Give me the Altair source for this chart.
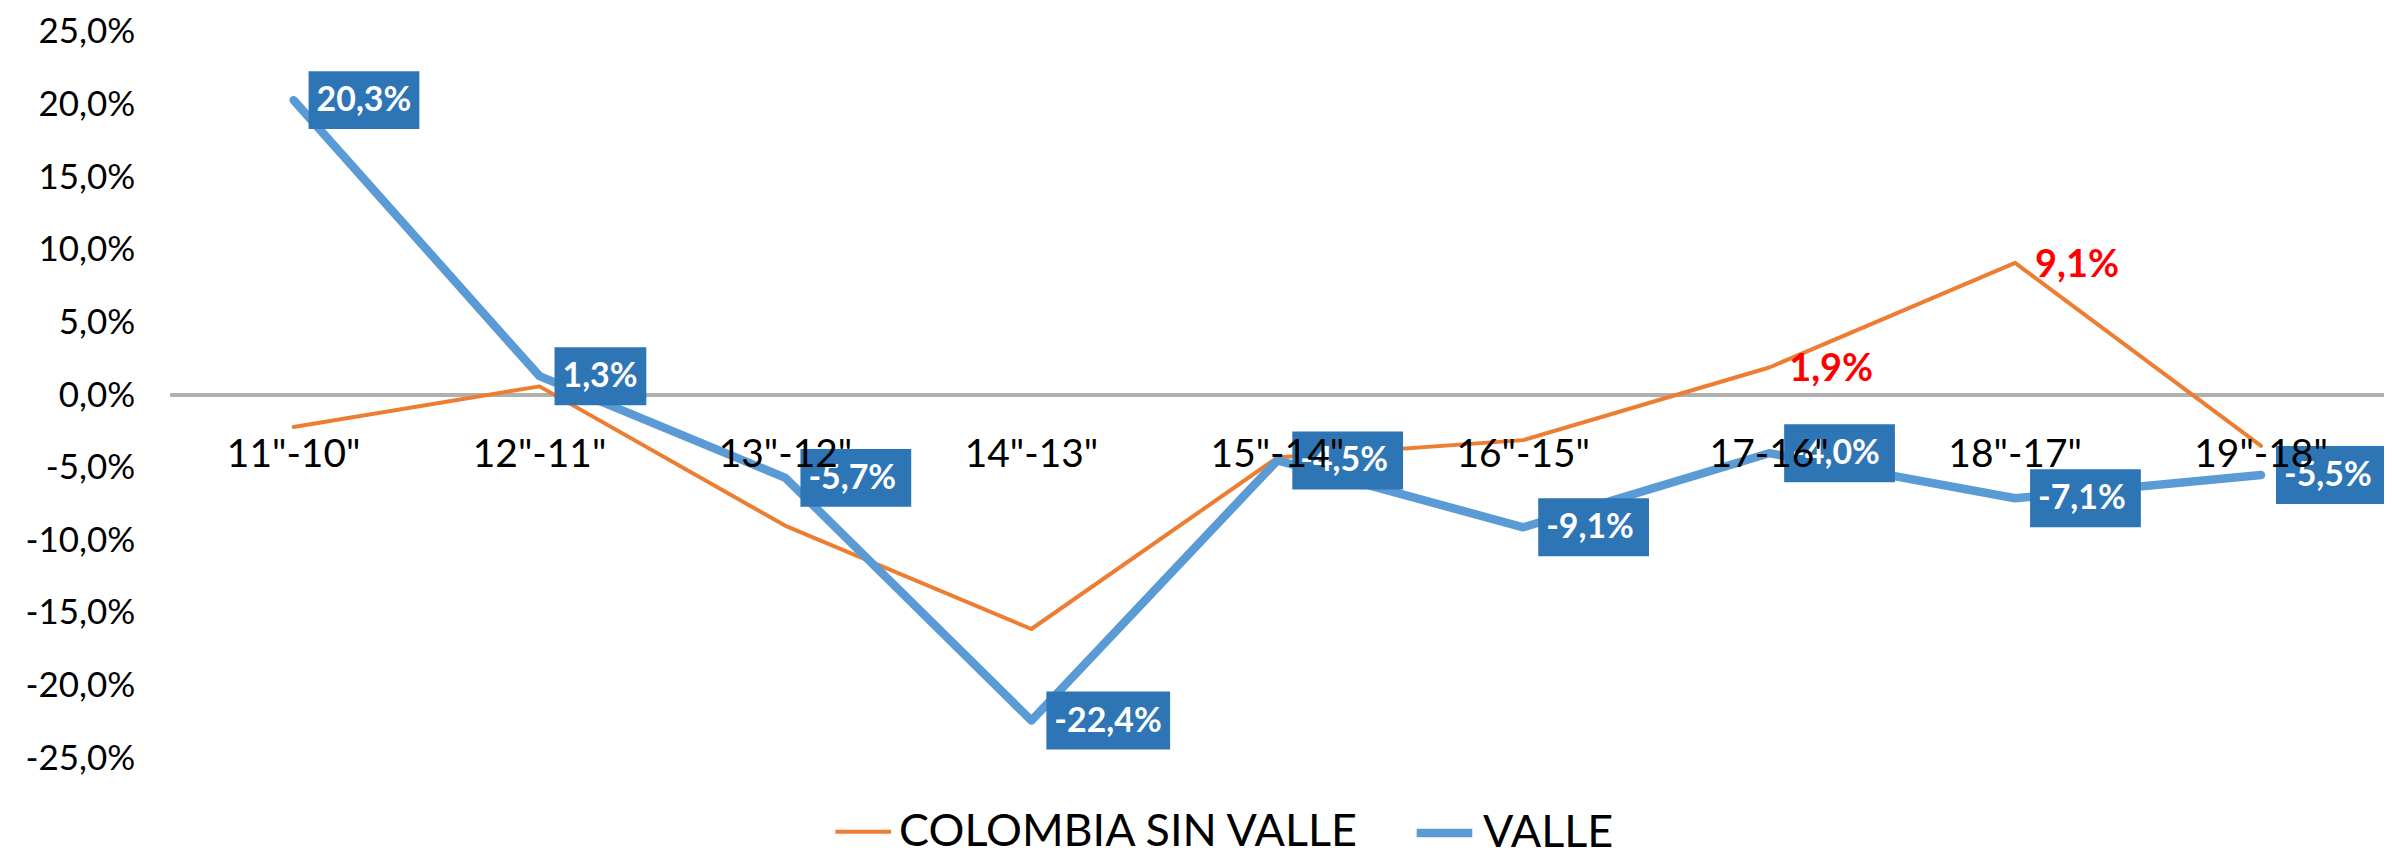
import altair as alt
import pandas as pd

periods = ['11"-10"', '12"-11"', '13"-12"', '14"-13"', '15"-14"', '16"-15"', '17-16"', '18"-17"', '19"-18"']
valle = [20.3, 1.3, -5.7, -22.4, -4.5, -9.1, -4.0, -7.1, -5.5]
colombia = [-2.2, 0.6, -9.0, -16.1, -4.3, -3.1, 1.9, 9.1, -3.5]
colombia_labelled = ['17-16"', '18"-17"']

S_COL = "COLOMBIA SIN VALLE"
S_VAL = "VALLE"
FONT = "Lato"


def fmt(v):
    return f"{v:.1f}".replace(".", ",") + "%"


rows = []
for p, c in zip(periods, colombia):
    rows.append({"period": p, "serie": S_COL, "value": c, "lab": fmt(c),
                 "show": p in colombia_labelled})
for p, v in zip(periods, valle):
    rows.append({"period": p, "serie": S_VAL, "value": v, "lab": fmt(v), "show": True})
df = pd.DataFrame(rows)

xenc = alt.X("period:N", sort=periods, scale=alt.Scale(type="point", padding=0.5), axis=None)
yenc = alt.Y("value:Q", scale=alt.Scale(domain=[-25, 25]),
             axis=alt.Axis(values=[-25, -20, -15, -10, -5, 0, 5, 10, 15, 20, 25],
                           labelExpr="(datum.value < 0 ? '-' : '') + replace(format(abs(datum.value), '.1f'), '.', ',') + '%'",
                           grid=False, domain=False, ticks=False, title=None,
                           labelFont=FONT, labelFontSize=35, labelColor="black",
                           labelPadding=36))

base = alt.Chart(df).encode(x=xenc, y=yenc)

zero = alt.Chart(df).mark_rule(color="#B0B0B0", strokeWidth=2.5).encode(y=alt.datum(0))

leg = dict(orient="none", legendX=664, legendY=770, direction="horizontal", title=None,
           symbolType="stroke", symbolSize=3100, labelFont=FONT, labelFontSize=45,
           labelColor="black", labelOffset=6, columnPadding=38, labelLimit=0)

lines = base.mark_line(strokeJoin="round", strokeCap="round").encode(
    color=alt.Color("serie:N", scale=alt.Scale(domain=[S_COL, S_VAL], range=["#ED7D31", "#5B9BD5"]),
                    legend=alt.Legend(**leg)),
    strokeWidth=alt.StrokeWidth("serie:N", scale=alt.Scale(domain=[S_COL, S_VAL], range=[4, 8.5]),
                                legend=alt.Legend(**leg)),
    order=alt.Order("serie:N"),
)

vdf = base.transform_filter(alt.datum.serie == S_VAL)
boxes = []
for n, w in [(4, 92), (5, 111), (6, 124)]:
    boxes.append(
        vdf.transform_filter(f"length(datum.lab) == {n}")
        .mark_rect(color="#2E75B6", width=w, height=58, xOffset=15 + w / 2)
    )

box_text = vdf.mark_text(align="left", baseline="middle", dx=23, dy=1, font=FONT,
                         fontSize=34, fontWeight="bold", color="white").encode(text="lab:N")

red_text = base.transform_filter((alt.datum.serie == S_COL) & alt.datum.show).mark_text(
    align="left", baseline="middle", dx=20, dy=3, font=FONT, fontSize=38,
    fontWeight="bold", color="#FF0000").encode(text="lab:N")

cat_labels = alt.Chart(pd.DataFrame({"period": periods})).mark_text(
    baseline="middle", dy=60, font=FONT, fontSize=39, color="black"
).encode(x=xenc, y=alt.datum(0), text="period:N")

chart = alt.layer(zero, lines, *boxes, box_text, red_text, cat_labels).properties(
    width=2218, height=728,
    padding={"left": 163, "top": 23, "right": 0, "bottom": 99},
    autosize="none",
    background="white",
).configure_view(stroke=None)

chart.save("out.html", embed_options={"renderer": "svg", "actions": False})
